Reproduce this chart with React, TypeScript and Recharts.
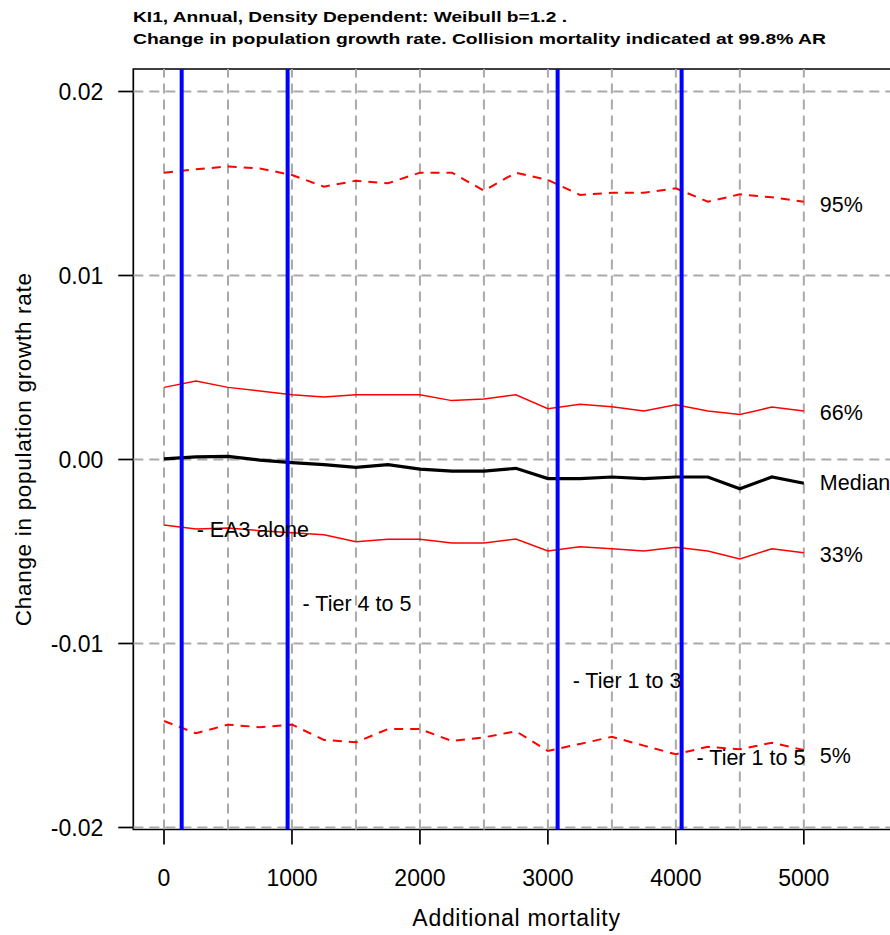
import React from "react";
import {
  LineChart,
  Line,
  XAxis,
  YAxis,
  ReferenceLine,
  ReferenceArea,
  ReferenceDot,
  Label,
  LabelList,
} from "recharts";

// Additional mortality (x) at which each quantile was simulated
const additionalMortality = [
  0, 250, 500, 750, 1000, 1250, 1500, 1750, 2000, 2250, 2500, 2750, 3000, 3250,
  3500, 3750, 4000, 4250, 4500, 4750, 5000,
];

// Change in population growth rate, by quantile
const q95 = [
  0.01559, 0.01577, 0.01593, 0.01582, 0.01546, 0.01483, 0.01515, 0.01501,
  0.01559, 0.01559, 0.01461, 0.01559, 0.01519, 0.01438, 0.0145, 0.0145,
  0.01474, 0.01401, 0.01441, 0.01425, 0.01401,
];
const q66 = [
  0.00392, 0.00427, 0.00392, 0.00372, 0.00352, 0.0034, 0.00352, 0.00352,
  0.00352, 0.0032, 0.00329, 0.00352, 0.00276, 0.003, 0.00287, 0.00264,
  0.00298, 0.00264, 0.00244, 0.00285, 0.00264,
];
const qMedian = [
  0.00003, 0.00014, 0.00017, -0.00003, -0.00017, -0.00028, -0.00043, -0.00028,
  -0.00052, -0.00063, -0.00063, -0.00048, -0.00104, -0.00104, -0.00095,
  -0.00104, -0.00095, -0.00095, -0.00159, -0.00095, -0.00129,
];
const q33 = [
  -0.00356, -0.00378, -0.00372, -0.00387, -0.00398, -0.00409, -0.00447,
  -0.00434, -0.00434, -0.00454, -0.00454, -0.00432, -0.00497, -0.00474,
  -0.00485, -0.00497, -0.00477, -0.00497, -0.00541, -0.00485, -0.00507,
];
const q05 = [
  -0.01421, -0.01488, -0.01441, -0.01455, -0.01441, -0.01524, -0.01537,
  -0.01465, -0.01465, -0.0153, -0.0151, -0.01477, -0.01584, -0.01546,
  -0.01507, -0.01555, -0.01602, -0.01561, -0.01575, -0.01539, -0.01579,
];

// Collision mortality at 99.8% AR for each scenario
const scenarioMortality = [138, 966, 3076, 4045];
const scenarioNames = ["- EA3 alone", "- Tier 4 to 5", "- Tier 1 to 3", "- Tier 1 to 5"];
const scenarioLabelY = [-0.00378, -0.0078, -0.01198, -0.01617];

// Axis ticks and grid positions
const xTicks = [0, 1000, 2000, 3000, 4000, 5000];
const yTicks = [-0.02, -0.01, 0, 0.01, 0.02];
const xGrid = [0, 500, 1000, 1500, 2000, 2500, 3000, 3500, 4000, 4500, 5000];

const X_DOMAIN: [number, number] = [-240, 6240];
const Y_DOMAIN: [number, number] = [-0.020109, 0.021223];

const data = additionalMortality.map((x, i) => ({
  x,
  q95: q95[i],
  q66: q66[i],
  median: qMedian[i],
  q33: q33[i],
  q05: q05[i],
}));

const FONT = "'Liberation Sans', Arial, Helvetica, sans-serif";
const LAST = additionalMortality.length - 1;

const endLabel = (text: string, dy: number) => (props: any) => {
  if (props.index !== LAST) return null;
  return (
    <text
      x={props.x + 16}
      y={props.y + dy}
      dominantBaseline="central"
      fontFamily={FONT}
      fontSize={21.5}
      fill="#000"
    >
      {text}
    </text>
  );
};

export default function App() {
  return (
    <div
      style={{
        position: "absolute",
        left: 0,
        top: 0,
        width: 890,
        height: 935,
        overflow: "hidden",
        background: "#fff",
      }}
    >
      <svg
        width={890}
        height={60}
        style={{ position: "absolute", left: 0, top: 0 }}
      >
        <text
          x={133}
          y={22.3}
          fontFamily={FONT}
          fontWeight="bold"
          fontSize={15}
          textLength={434}
          lengthAdjust="spacingAndGlyphs"
        >
          KI1, Annual, Density Dependent: Weibull b=1.2 .
        </text>
        <text
          x={133}
          y={44}
          fontFamily={FONT}
          fontWeight="bold"
          fontSize={15}
          textLength={693}
          lengthAdjust="spacingAndGlyphs"
        >
          Change in population growth rate. Collision mortality indicated at 99.8% AR
        </text>
      </svg>
      <LineChart
        width={970}
        height={935}
        data={data}
        margin={{ top: 69, right: 7.5, bottom: 0, left: 0 }}
        style={{ position: "absolute", left: 0, top: 0 }}
      >
        <XAxis
          dataKey="x"
          type="number"
          domain={X_DOMAIN}
          allowDataOverflow
          ticks={xTicks}
          height={105.5}
          tickSize={15}
          tickMargin={25}
          axisLine={false}
          tickLine={{ stroke: "#000", strokeWidth: 1.7 }}
          tick={{ fill: "#000", fontSize: 23, fontFamily: FONT }}
        >
          <Label
            content={(p: any) => {
              const vb = p.viewBox;
              return (
                <text
                  x={vb.x + vb.width / 2 - 31.4}
                  y={926}
                  textAnchor="middle"
                  fontFamily={FONT}
                  fontSize={23}
                  letterSpacing={0.7}
                  fill="#000"
                >
                  Additional mortality
                </text>
              );
            }}
          />
        </XAxis>
        <YAxis
          type="number"
          domain={Y_DOMAIN}
          allowDataOverflow
          ticks={yTicks}
          width={133.3}
          tickSize={15}
          tickMargin={15}
          axisLine={false}
          tickLine={{ stroke: "#000", strokeWidth: 1.7 }}
          tick={{ fill: "#000", fontSize: 23, fontFamily: FONT }}
          tickFormatter={(v: number) => v.toFixed(2)}
        >
          <Label
            content={(p: any) => {
              const vb = p.viewBox;
              const cy = vb.y + vb.height / 2;
              return (
                <text
                  x={31}
                  y={cy}
                  transform={`rotate(-90 31 ${cy})`}
                  textAnchor="middle"
                  fontFamily={FONT}
                  fontSize={22.5}
                  letterSpacing={0.7}
                  fill="#000"
                >
                  Change in population growth rate
                </text>
              );
            }}
          />
        </YAxis>

        {xGrid.map((v) => (
          <ReferenceLine
            key={`gx${v}`}
            x={v}
            stroke="#aaaaaa"
            strokeWidth={2}
            strokeDasharray="10 6"
          />
        ))}
        {yTicks.map((v) => (
          <ReferenceLine
            key={`gy${v}`}
            y={v}
            stroke="#aaaaaa"
            strokeWidth={2}
            strokeDasharray="10 6"
          />
        ))}

        <Line
          dataKey="q95"
          stroke="#ff0000"
          strokeWidth={2}
          strokeDasharray="9 7"
          dot={false}
          isAnimationActive={false}
        >
          <LabelList dataKey="q95" content={endLabel("95%", 3)} />
        </Line>
        <Line
          dataKey="q66"
          stroke="#ff0000"
          strokeWidth={1.5}
          dot={false}
          isAnimationActive={false}
        >
          <LabelList dataKey="q66" content={endLabel("66%", 2)} />
        </Line>
        <Line
          dataKey="median"
          stroke="#000000"
          strokeWidth={3.2}
          dot={false}
          isAnimationActive={false}
        >
          <LabelList dataKey="median" content={endLabel("Median", 0)} />
        </Line>
        <Line
          dataKey="q33"
          stroke="#ff0000"
          strokeWidth={1.5}
          dot={false}
          isAnimationActive={false}
        >
          <LabelList dataKey="q33" content={endLabel("33%", 2)} />
        </Line>
        <Line
          dataKey="q05"
          stroke="#ff0000"
          strokeWidth={2}
          strokeDasharray="9 7"
          dot={false}
          isAnimationActive={false}
        >
          <LabelList dataKey="q05" content={endLabel("5%", 6)} />
        </Line>

        {scenarioMortality.map((v) => (
          <ReferenceLine key={`s${v}`} x={v} stroke="#0000ff" strokeWidth={4} />
        ))}
        {scenarioMortality.map((v, i) => (
          <ReferenceDot
            key={`sl${v}`}
            x={v}
            y={scenarioLabelY[i]}
            r={0}
            fill="none"
            stroke="none"
          >
            <Label
              value={scenarioNames[i]}
              position="right"
              offset={15}
              fill="#000"
              fontSize={21.5}
              fontFamily={FONT}
            />
          </ReferenceDot>
        ))}

        <ReferenceArea
          x1={X_DOMAIN[0]}
          x2={X_DOMAIN[1]}
          y1={Y_DOMAIN[0]}
          y2={Y_DOMAIN[1]}
          fill="none"
          fillOpacity={0}
          stroke="#000"
          strokeWidth={1.7}
        />
      </LineChart>
    </div>
  );
}
